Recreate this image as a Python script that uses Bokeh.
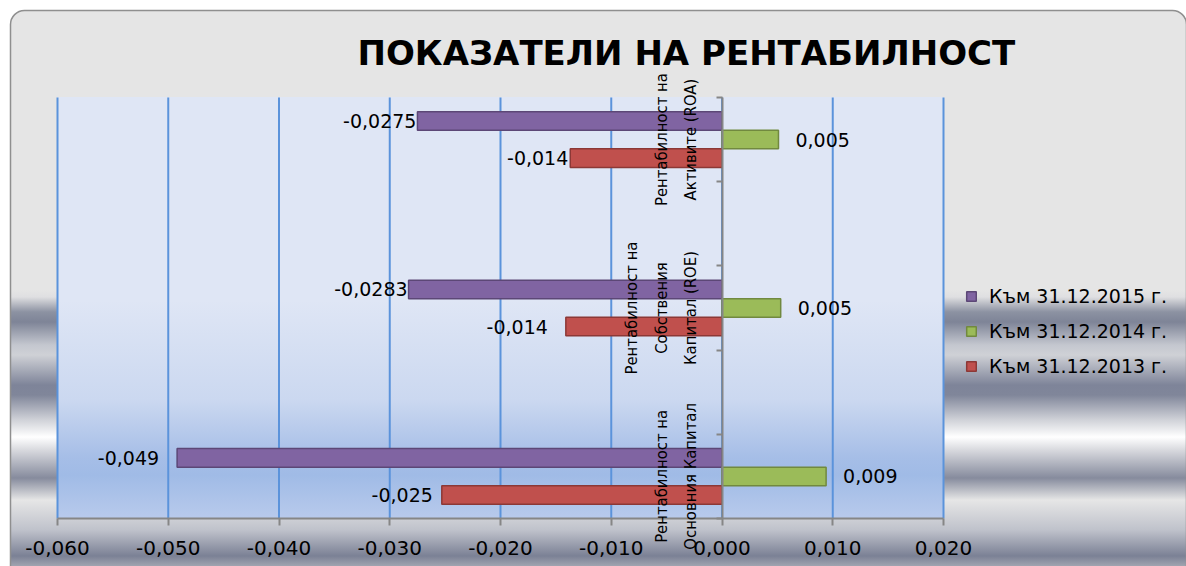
from urllib.parse import quote
from bokeh.plotting import figure
from bokeh.models import (ColumnDataSource, Range1d, LinearAxis, FixedTicker,
                          Legend, LegendItem, Label, CustomLabelingPolicy)
from bokeh.core.properties import value
from bokeh.embed import file_html
from bokeh.resources import INLINE

# ---------------- data ----------------
title_text = "ПОКАЗАТЕЛИ НА РЕНТАБИЛНОСТ"
categories = ["Рентабилност на\nАктивите (ROA)",
              "Рентабилност на\nСобствения\nКапитал (ROE)",
              "Рентабилност на\nОсновния Капитал"]
series_names = ["Към 31.12.2015 г.", "Към 31.12.2014 г.", "Към 31.12.2013 г."]
values_2015 = [-0.0275, -0.0283, -0.0492]
values_2014 = [0.0051, 0.0053, 0.0094]
values_2013 = [-0.0137, -0.0141, -0.0253]
labels_2015 = ["-0,0275", "-0,0283", "-0,049"]
labels_2014 = ["0,005", "0,005", "0,009"]
labels_2013 = ["-0,014", "-0,014", "-0,025"]
x_ticks = [-0.06, -0.05, -0.04, -0.03, -0.02, -0.01, 0.0, 0.01, 0.02]
x_tick_labels = ["-0,060", "-0,050", "-0,040", "-0,030", "-0,020",
                 "-0,010", "0,000", "0,010", "0,020"]

# ---------------- styles ----------------
W, H = 1186, 566
FL, FT, FW, FH = 57, 97, 886, 421          # plot-area box (px)
fill_colors = ["#8064a2", "#9bbb59", "#c0504d"]
line_colors = ["#5c4776", "#71893f", "#8c3836"]
offsets = [0.22, 0.0, -0.22]
label_dx = [[-1, -1, -18], [17, 17, 17], [-2, -18, -9]]   # data-label nudges (px)
bar_h = 0.22
grid_color = "#5b93db"
axis_color = "#868686"

outer_stops = [(0, "#e5e5e5"), (290, "#e5e5e5"), (297, "#dfdfe1"), (312, "#8c92a2"),
               (322, "#7e8497"), (345, "#c4c7cf"), (355, "#cfd1d6"), (385, "#7e8499"),
               (395, "#80869a"), (420, "#d0d2d8"), (437, "#ffffff"), (450, "#d8d9de"),
               (478, "#868b9d"), (500, "#e6e6e6"), (530, "#bfc2cb"), (556, "#7b8195"),
               (566, "#a0a4b0")]
frame_stops = [(0, "#dfe6f5"), (203, "#dfe6f5"), (303, "#cbd8f0"), (360, "#a6bee7"),
               (378, "#a0bbe6"), (421, "#b8caec")]


def svg_stops(stops, total):
    return "".join(f"<stop offset='{y / total:.4f}' stop-color='{c}'/>" for y, c in stops)


bg_svg = (
    f"<svg xmlns='http://www.w3.org/2000/svg' width='{W}' height='{H}'>"
    f"<defs><linearGradient id='o' x1='0' y1='0' x2='0' y2='{H}' gradientUnits='userSpaceOnUse'>"
    f"{svg_stops(outer_stops, H)}</linearGradient>"
    f"<linearGradient id='f' x1='0' y1='{FT}' x2='0' y2='{FT + FH}' gradientUnits='userSpaceOnUse'>"
    f"{svg_stops(frame_stops, FH)}</linearGradient></defs>"
    f"<rect x='10.5' y='10.5' width='1176' height='600' rx='14' fill='url(#o)' "
    f"stroke='#8f8f8f' stroke-width='1.5'/>"
    f"<rect x='{FL}' y='{FT}' width='{FW}' height='{FH}' fill='url(#f)'/>"
    f"</svg>")

# category slots (bottom to top) with empty spacer slots between the groups
slots = []
for i, c in enumerate(reversed(categories)):
    if i:
        slots.append(None)
    slots.append(c)
cat_pos = [slots.index(c) + 0.5 for c in categories]
slot_edges = list(range(len(slots) + 1))

# the Bokeh frame covers the whole canvas; the value axis spans FW px and the
# category slots span FH px inside it
x_min, x_max = x_ticks[0], x_ticks[-1]
px_x = FW / (x_max - x_min)
x_start = x_min - FL / px_x
x_end = x_start + W / px_x
px_y = FH / (slot_edges[-1] - slot_edges[0])
y_start = slot_edges[0] - (H - FT - FH) / px_y
y_end = slot_edges[-1] + FT / px_y

p = figure(width=W, height=H,
           x_range=Range1d(x_start, x_end),
           y_range=Range1d(y_start, y_end),
           y_axis_location=None,
           output_backend="svg", toolbar_location=None,
           min_border_left=0, min_border_right=0,
           min_border_top=0, min_border_bottom=0,
           border_fill_color=None, background_fill_color=None,
           outline_line_color=None)
p.xgrid.visible = False
p.ygrid.visible = False

p.styles = {
    "background": f"url(\"data:image/svg+xml,{quote(bg_svg, safe='')}\") 0 0 / {W}px {H}px no-repeat, #ffffff",
}

# title
p.add_layout(Label(x=x_start + 357 / px_x, y=y_end - 52 / px_y, text=title_text,
                   text_align="left", text_baseline="alphabetic",
                   text_font="DejaVu Sans", text_font_style="bold",
                   text_font_size="34px", text_color="#000000"))

# vertical grid lines at the value ticks, spanning the category slots
grid_src = ColumnDataSource(dict(x=x_ticks, y0=[slot_edges[0]] * len(x_ticks),
                                 y1=[slot_edges[-1]] * len(x_ticks)))
p.segment(x0="x", x1="x", y0="y0", y1="y1", source=grid_src,
          line_color=grid_color, line_width=2)

# x axis at the bottom of the slots
p.xaxis.fixed_location = slot_edges[0]
p.xaxis.ticker = FixedTicker(ticks=x_ticks)
p.xaxis.bounds = (x_min, x_max)
p.xaxis.major_label_overrides = dict(zip(x_ticks, x_tick_labels))
p.xaxis.major_label_text_font = "DejaVu Sans"
p.xaxis.major_label_text_font_size = "20px"
p.xaxis.major_label_text_color = "#000000"
p.xaxis.major_label_standoff = 15
p.xaxis.major_tick_out = 7
p.xaxis.major_tick_in = 0
p.xaxis.minor_tick_out = 0
p.xaxis.minor_tick_in = 0
p.xaxis.axis_line_color = axis_color
p.xaxis.axis_line_width = 2
p.xaxis.major_tick_line_color = axis_color
p.xaxis.major_tick_line_width = 2

# vertical (category) axis drawn at x = 0 with ticks at the slot boundaries, no labels
no_labels = CustomLabelingPolicy(
    code="for (let i = 0; i < indices.size; i++) { indices.set(i, false) } return indices")
slot_axis = LinearAxis(ticker=FixedTicker(ticks=slot_edges),
                       fixed_location=0, bounds=(slot_edges[0], slot_edges[-1]),
                       major_label_policy=no_labels,
                       major_tick_out=6, major_tick_in=0,
                       minor_tick_out=0, minor_tick_in=0,
                       axis_line_color=axis_color, axis_line_width=2,
                       major_tick_line_color=axis_color, major_tick_line_width=2)
p.add_layout(slot_axis, "left")

# category names: rotated labels of an axis at x = 0 (ticks at the group centres)
cat_axis = LinearAxis(ticker=FixedTicker(ticks=cat_pos),
                      fixed_location=0,
                      major_label_overrides=dict(zip(cat_pos, categories)),
                      major_label_orientation="vertical",
                      major_label_standoff=22,
                      major_label_text_font="DejaVu Sans Condensed",
                      major_label_text_font_size="16.5px",
                      major_label_text_line_height=1.55,
                      major_label_text_color="#000000",
                      major_tick_out=0, major_tick_in=0,
                      minor_tick_out=0, minor_tick_in=0,
                      axis_line_color=None, major_tick_line_color=None)
p.add_layout(cat_axis, "left")

# bars + data labels
series_values = [values_2015, values_2014, values_2013]
series_labels = [labels_2015, labels_2014, labels_2013]
legend_items = []
for name, vals, labs, off, dxs, fc, lc in zip(series_names, series_values, series_labels,
                                              offsets, label_dx, fill_colors, line_colors):
    src = ColumnDataSource(dict(
        y=[c + off for c in cat_pos], v=vals, lab=labs, xoff=dxs,
        align=["right" if v < 0 else "left" for v in vals],
    ))
    r = p.hbar(y="y", left=0, right="v", height=bar_h, source=src,
               fill_color=fc, line_color=lc, line_width=1.5)
    p.text(x="v", y="y", text="lab", source=src,
           text_align="align", x_offset="xoff", text_baseline="middle",
           text_font=value("DejaVu Sans"), text_font_size="19px", text_color="#000000")
    legend_items.append(LegendItem(label=name, renderers=[r]))

legend = Legend(items=legend_items, location=(965, 189), orientation="vertical",
                padding=0, margin=0, spacing=13, label_height=22,
                glyph_height=12, glyph_width=12, label_standoff=12,
                label_text_font="DejaVu Sans", label_text_font_size="19px",
                label_text_color="#000000",
                border_line_color=None, background_fill_color=None)
p.add_layout(legend)

open("out.html", "w").write(file_html(p, INLINE))
